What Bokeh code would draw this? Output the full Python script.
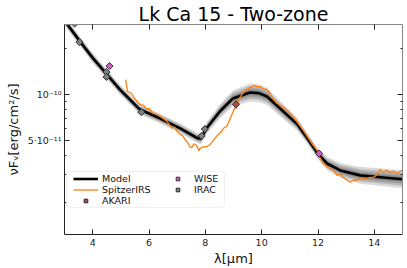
from bokeh.plotting import figure
from bokeh.models import (Range1d, LinearAxis, LogAxis, FixedTicker,
                          Legend, LegendItem, BoxAnnotation)
from bokeh.embed import file_html
from bokeh.resources import INLINE

FONT = "DejaVu Sans"

# ---------------- data ----------------
title_text = "Lk Ca 15 - Two-zone"
x_label = "λ[μm]"
y_label = "νFᵥ[erg/cm²/s]"

x_ticks = [4, 6, 8, 10, 12, 14]
y_major_ticks = [5e-11, 1e-10]
y_major_labels = ["5·10⁻¹¹", "10⁻¹⁰"]
y_minor_ticks = [2e-11, 3e-11, 4e-11, 6e-11, 7e-11, 8e-11, 9e-11, 2e-10]

model_wl = [3.0, 3.57, 4.0, 4.49, 4.96, 5.67, 6.38, 7.09, 7.70, 7.84, 8.05, 8.52,
            8.98, 9.58, 9.90, 10.19, 10.76, 11.26, 11.61, 11.97, 12.32, 12.79,
            13.50, 14.32, 15.0]
model_flux = [3.02e-10, 2.19e-10, 1.73e-10, 1.36e-10, 1.08e-10, 8.0e-11, 7.0e-11,
              6.05e-11, 5.22e-11, 5.15e-11, 6.05e-11, 7.78e-11, 9.43e-11, 1.03e-10,
              1.02e-10, 9.71e-11, 7.78e-11, 6.42e-11, 5.22e-11, 4.18e-11, 3.56e-11,
              3.21e-11, 2.98e-11, 2.89e-11, 2.81e-11]
# half-width of the grey model-sample envelope (dex)
model_spread = [0.032, 0.032, 0.032, 0.032, 0.032, 0.032, 0.032, 0.032, 0.032, 0.035,
                0.038, 0.045, 0.051, 0.058, 0.058, 0.055, 0.048, 0.042, 0.036, 0.036,
                0.042, 0.048, 0.055, 0.058, 0.058]

irs_wl = [5.17, 5.24, 5.38, 5.49, 5.67, 5.81, 5.92, 6.02, 6.13, 6.27, 6.38, 6.49,
          6.63, 6.74, 6.81, 6.91, 6.99, 7.09, 7.20, 7.31, 7.38, 7.45, 7.52, 7.59,
          7.70, 7.77, 7.80, 7.91, 8.05, 8.16, 8.27, 8.41, 8.52, 8.66, 8.77, 8.87,
          8.98, 9.05, 9.12, 9.23, 9.30, 9.41, 9.48, 9.58, 9.73, 9.83, 9.94, 10.05,
          10.19, 10.30, 10.40, 10.54, 10.65, 10.76, 10.90, 11.01, 11.11, 11.26,
          11.36, 11.51, 11.65, 11.79, 11.97, 12.07, 12.18, 12.32, 12.43, 12.54,
          12.68, 12.79, 12.89, 13.04, 13.14, 13.25, 13.39, 13.50, 13.60, 13.75,
          13.85, 13.96, 14.07, 14.21, 14.32, 14.42, 14.57, 14.67, 14.81, 14.92, 14.99]
irs_flux = [1.25e-10, 1.045e-10, 1.015e-10, 9.43e-11, 8.63e-11, 8.50e-11, 8.01e-11,
            8.13e-11, 7.56e-11, 7.44e-11, 7.23e-11, 7.02e-11, 6.71e-11, 6.33e-11,
            6.05e-11, 6.14e-11, 5.79e-11, 5.54e-11, 5.38e-11, 5.00e-11, 4.85e-11,
            4.57e-11, 4.51e-11, 4.78e-11, 4.64e-11, 4.31e-11, 4.44e-11, 4.57e-11,
            4.57e-11, 4.71e-11, 5.00e-11, 5.38e-11, 5.62e-11, 6.05e-11, 6.24e-11,
            6.91e-11, 7.67e-11, 8.26e-11, 8.63e-11, 9.57e-11, 1.0e-10, 1.061e-10,
            1.077e-10, 1.109e-10, 1.142e-10, 1.125e-10, 1.125e-10, 1.093e-10,
            1.077e-10, 1.015e-10, 9.43e-11, 8.76e-11, 8.50e-11, 8.26e-11, 7.90e-11,
            7.56e-11, 7.23e-11, 6.62e-11, 6.24e-11, 5.71e-11, 5.22e-11, 4.78e-11,
            4.31e-11, 3.89e-11, 3.56e-11, 3.40e-11, 3.30e-11, 3.21e-11, 2.98e-11,
            3.03e-11, 2.89e-11, 2.77e-11, 2.69e-11, 2.77e-11, 2.77e-11, 2.85e-11,
            2.81e-11, 2.85e-11, 2.89e-11, 2.89e-11, 2.98e-11, 3.26e-11, 3.12e-11,
            3.21e-11, 3.12e-11, 3.16e-11, 3.07e-11, 3.16e-11, 3.21e-11]

akari_wl = [9.09]
akari_flux = [8.63e-11]
akari_err = [0.55e-11]

wise_wl = [3.36, 4.60, 12.04]
wise_flux = [2.89e-10, 1.53e-10, 4.13e-11]
wise_err = [0.06e-10, 0.03e-10, 0.08e-11]

irac_wl = [3.53, 4.49, 4.49, 5.73, 7.87, 7.98]
irac_flux = [2.19e-10, 1.40e-10, 1.30e-10, 7.67e-11, 5.38e-11, 5.96e-11]
irac_err = [0.03e-10, 0.02e-10, 0.02e-10, 0.1e-11, 0.08e-11, 0.08e-11]

# ---------------- figure ----------------
p = figure(width=407, height=268, y_axis_type="log",
           x_range=Range1d(3, 15), y_range=Range1d(1.23e-11, 2.85e-10),
           output_backend="svg", toolbar_location=None,
           min_border_left=64, min_border_right=5, min_border_top=0,
           min_border_bottom=33, title=title_text)
p.outline_line_color = None
p.grid.visible = False
p.title.text_font = FONT
p.title.text_font_size = "19px"
p.title.text_font_style = "normal"
p.title.align = "center"
p.title.offset = -2
p.title.standoff = 0
p.title.text_color = "#000000"

# grey envelope of model samples
for frac in [1.0, 0.72, 0.48, 0.28]:
    lo = [f * 10 ** (-s * frac) for f, s in zip(model_flux, model_spread)]
    hi = [f * 10 ** (s * frac) for f, s in zip(model_flux, model_spread)]
    p.varea(x=model_wl, y1=lo, y2=hi, fill_color="black", fill_alpha=0.15)

r_model = p.line(model_wl, model_flux, line_color="black", line_width=2.6)
r_irs = p.line(irs_wl, irs_flux, line_color="#ff7f0e", line_width=1.3)

def err_segments(wl, fl, er, color):
    p.segment(x0=wl, y0=[f - e for f, e in zip(fl, er)],
              x1=wl, y1=[f + e for f, e in zip(fl, er)],
              line_color=color, line_width=1.2)

err_segments(akari_wl, akari_flux, akari_err, "#c0504d")
err_segments(wise_wl, wise_flux, wise_err, "#e377c2")
err_segments(irac_wl, irac_flux, irac_err, "#7f7f7f")

r_irac = p.scatter(irac_wl, irac_flux, marker="square", angle=0.785398, size=5,
                   fill_color="#808080", line_color="#2b2b2b", line_width=1)
r_wise = p.scatter(wise_wl, wise_flux, marker="square", angle=0.785398, size=5,
                   fill_color="#d45fc4", line_color="#3a2a3a", line_width=1)
r_akari = p.scatter(akari_wl, akari_flux, marker="square", angle=0.785398, size=5,
                    fill_color="#9c5450", line_color="#3a2222", line_width=1)

# ---------------- axes ----------------
xax = p.xaxis[0]
xax.ticker = FixedTicker(ticks=x_ticks)
yax = p.yaxis[0]
yax.ticker = FixedTicker(ticks=y_major_ticks, minor_ticks=y_minor_ticks)
yax.major_label_overrides = dict(zip(y_major_ticks, y_major_labels))

xax.axis_label = x_label
yax.axis_label = y_label

top = LinearAxis(ticker=FixedTicker(ticks=x_ticks))
right = LogAxis(ticker=FixedTicker(ticks=y_major_ticks, minor_ticks=y_minor_ticks))
p.add_layout(top, "above")
p.add_layout(right, "right")

for ax in [xax, yax, top, right]:
    ax.major_tick_in = 5
    ax.major_tick_out = 0
    ax.minor_tick_in = 2
    ax.minor_tick_out = 0
    ax.major_tick_line_color = "#222222"
    ax.minor_tick_line_color = "#222222"
    ax.major_label_text_font = FONT
    ax.major_label_text_font_size = "9.5px"
    ax.major_label_text_color = "#222222"
    ax.axis_label_text_font = FONT
    ax.axis_label_text_font_size = "13px"
    ax.axis_label_text_font_style = "normal"
    ax.axis_label_text_color = "#111111"

xax.minor_tick_line_color = None
top.minor_tick_line_color = None
xax.axis_line_color = "#222222"
yax.axis_line_color = "#222222"
xax.major_label_standoff = 4
yax.major_label_standoff = 3
xax.axis_label_standoff = 2
yax.axis_label_standoff = 4

for ax in [top, right]:
    ax.axis_line_color = "#888888"
    ax.major_label_text_font_size = "1px"
    ax.major_label_text_color = None
    ax.major_label_standoff = 0
    ax.axis_label_standoff = 0

# ---------------- legend ----------------
p.add_layout(BoxAnnotation(left=2, right=160, bottom=27, top=63,
                           left_units="screen", right_units="screen",
                           bottom_units="screen", top_units="screen",
                           fill_color="white", fill_alpha=0.85,
                           line_color="#d0d0d0", line_width=1, border_radius=3,
                           level="overlay"))

def make_legend(items, loc):
    lg = Legend(items=items, location=loc, orientation="vertical")
    lg.border_line_color = None
    lg.background_fill_alpha = 0
    lg.label_text_font = FONT
    lg.label_text_font_size = "9.5px"
    lg.label_text_color = "#111111"
    lg.glyph_width = 25
    lg.glyph_height = 9
    lg.label_height = 9
    lg.label_standoff = 4
    lg.padding = 1
    lg.spacing = 0
    lg.margin = 0
    return lg

leg1 = make_legend([LegendItem(label="Model", renderers=[r_model]),
                    LegendItem(label="SpitzerIRS", renderers=[r_irs]),
                    LegendItem(label="AKARI", renderers=[r_akari])], (9, 28))
leg2 = make_legend([LegendItem(label="WISE", renderers=[r_wise]),
                    LegendItem(label="IRAC", renderers=[r_irac])], (101, 39))
p.add_layout(leg1)
p.add_layout(leg2)

open("out.html", "w").write(file_html(p, INLINE))
